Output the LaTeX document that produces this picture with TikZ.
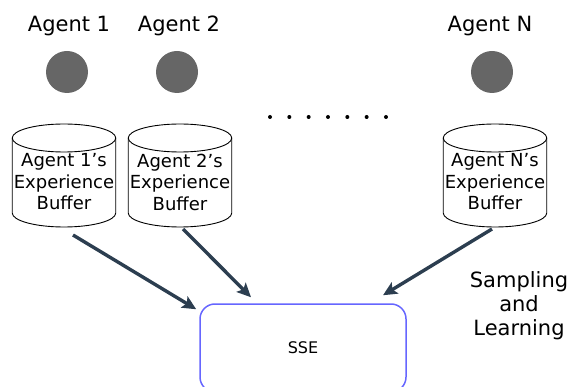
\documentclass[tikz,border=0pt]{standalone}
\usepackage{fontspec}
\setmainfont{DejaVu Sans}
\usetikzlibrary{arrows.meta,positioning}
\definecolor{agentgray}{RGB}{102,102,102}
\definecolor{flowslate}{RGB}{44,62,80}
\definecolor{sseblue}{RGB}{102,102,255}

\begin{document}
\begin{tikzpicture}[
    x=1pt, y=-1pt,
    agent/.style={circle, fill=agentgray, minimum size=42pt, inner sep=0pt},
    title/.style={anchor=base, inner sep=0pt, font=\fontsize{21}{24}\selectfont},
    buffer/.style={align=center, inner sep=0pt, font=\fontsize{18}{21.5}\selectfont},
    drum/.style={draw=black, line width=0.9pt},
    engine/.style={rectangle, rounded corners=15pt, draw=sseblue, line width=1.5pt,
        minimum width=206pt, minimum height=88pt, font=\fontsize{16}{19}\selectfont},
    flow/.style={-{Stealth[length=14pt,width=13pt,inset=3pt]}, line width=3.4pt, draw=flowslate}
]
\clip (0,0) rectangle (575,387);

% Agents
\node[agent] (a1) at (67,72) {};
\node[agent] (a2) at (177,72) {};
\node[agent] (aN) at (492,72) {};
\node[title] (t1) at (69,31.5) {Agent 1};
\node[title] (t2) at (179,31.5) {Agent 2};
\node[title] (tN) at (490,31.5) {Agent N};

% Ellipsis between agent 2 and agent N
\foreach \i in {0,...,6}
    \fill (270+\i*19.33,117) circle (2pt);

% Experience buffers (text nodes, cylinders drawn around them)
\node[buffer] (buf1) at (64,182) {Agent 1’s\\Experience\\Buffer};
\node[buffer] (buf2) at (180,182) {Agent 2’s\\Experience\\Buffer};
\node[buffer] (bufN) at (495,182) {Agent N’s\\Experience\\Buffer};
\foreach \b in {buf1,buf2,bufN}{
    \draw[drum] ([shift={(-51.75,-44)}]\b.center) -- ([shift={(-51.75,31)}]\b.center)
        arc[start angle=180, end angle=0, x radius=51.75, y radius=14]
        -- ([shift={(51.75,-44)}]\b.center);
    \draw[drum] ([shift={(0,-44)}]\b.center) ellipse [x radius=51.75, y radius=14];
}

% Shared learner
\node[engine] (sse) at (303,348) {SSE};
\node[align=center, font=\fontsize{21}{24}\selectfont] (learn) at (519,306) {Sampling\\and\\Learning};

% Arrows
\draw[flow] ([shift={(9,53)}]buf1.center) -- ([shift={(-3,6)}]sse.north west);
\draw[flow] ([shift={(3,47)}]buf2.center) -- ([shift={(-52,-6)}]sse.north);
\draw[flow] ([shift={(-3,47)}]bufN.center) -- ([shift={(80,-8)}]sse.north);

\end{tikzpicture}
\end{document}
